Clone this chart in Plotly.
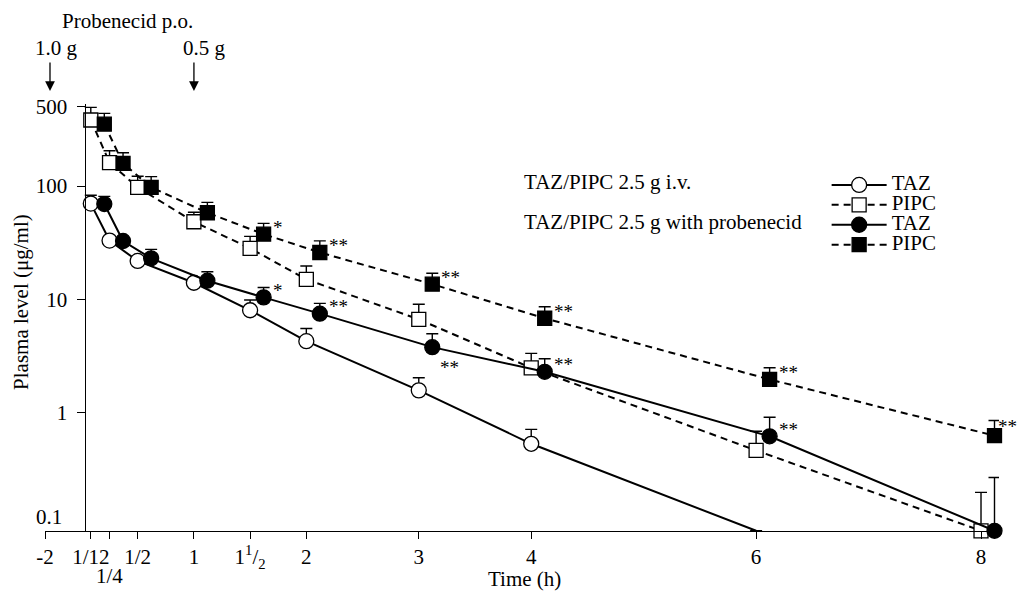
import numpy as np
import plotly.graph_objects as go

# ---------------- data ----------------
times = [1/12, 1/4, 1/2, 1, 1.5, 2, 3, 4, 6, 8]          # h
prob_offset = 0.12                                         # probenecid points drawn slightly to the right

taz_alone = [70, 33, 21.8, 14.0, 8.0, 4.27, 1.57, 0.53, 0.0904]     # last: below limit (line to axis)
taz_alone_sd = [13, 1.5, 1.0, 0.8, 1.86, 1.26, 0.46, 0.18, None]

pipc_alone = [383, 161, 97.4, 48.4, 28.2, 15.0, 6.65, 2.48, 0.463, 0.0904]
pipc_alone_sd = [112, 44, 24.6, 10.2, 7.7, 4.7, 2.39, 0.85, 0.221, 0.107]

taz_prob = [69.3, 32.7, 23.0, 14.6, 10.4, 7.47, 3.78, 2.29, 0.617, 0.0904]
taz_prob_sd = [11.7, 1.5, 4.6, 2.9, 2.3, 1.73, 1.19, 0.70, 0.291, 0.177]
taz_prob_sig = ["", "", "", "", "*", "**", "**", "**", "**", ""]

pipc_prob = [352, 158.5, 97.4, 58.1, 37.6, 25.9, 13.6, 6.8, 1.96, 0.625]
pipc_prob_sd = [86, 38.5, 23.6, 13.7, 9.2, 6.9, 3.4, 1.8, 0.53, 0.225]
pipc_prob_sig = ["", "", "", "", "*", "**", "**", "**", "**", "**"]

x_tick_labels = ["-2", "1/12", "1/4", "1/2", "1", "1<sup>1</sup>/<sub>2</sub>", "2", "3", "4", "6", "8"]
x_tick_values = [-2, 1/12, 1/4, 1/2, 1, 1.5, 2, 3, 4, 6, 8]
y_tick_values = [0.1, 1, 10, 100, 500]
y_tick_labels = ["0.1", "1", "10", "100", "500"]

dose_labels = ["1.0 g", "0.5 g"]

# ---------------- layout constants ----------------
FONT = "Liberation Serif"
FS = 21
AXIS_BREAK = -0.324        # where the "-2" h mark sits on the broken axis
X_RANGE = [AXIS_BREAK, 8.16]
Y_RANGE = [np.log10(0.09), np.log10(530)]
DECADE_PX = 113.3
X_PX_PER_H = 112.5

OFF = 8                    # page body margin of the html page
WIN_W, WIN_H = 1025, 595
W, H = WIN_W - OFF, WIN_H - OFF
# plot area edges in window pixels
PL, PT = 45, 104
PR = PL + X_PX_PER_H * (X_RANGE[1] - X_RANGE[0])
PB = PT + DECADE_PX * (Y_RANGE[1] - Y_RANGE[0])
PW, PH = PR - PL, PB - PT


def px_x(px):
    return (px - PL) / PW


def px_y(py):
    return (PB - py) / PH


x_pos = [AXIS_BREAK if v == -2 else v for v in x_tick_values]
yaxis_pos = px_x(85.5)
# the 0.1 label is written separately (raised above the x axis)
y_ticks_shown = [(v, t) for v, t in zip(y_tick_values, y_tick_labels) if t != "0.1"]

fig = go.Figure()

err_style = dict(type="data", symmetric=False, color="black", thickness=1.4, width=6)
line_solid = dict(color="black", width=2)
line_dash = dict(color="black", width=2, dash="7px,5px")


def lbl(s):
    return f"<span style='font-size:{FS}px'>{s}</span>"


# PIPC alone (open squares, dashed)
fig.add_trace(go.Scatter(
    x=times, y=pipc_alone, mode="lines+markers", name=lbl("PIPC"), legendrank=2,
    line=line_dash,
    marker=dict(symbol="square", size=14, color="white", line=dict(color="black", width=1.3)),
    error_y=dict(array=pipc_alone_sd, arrayminus=[0] * len(pipc_alone_sd), **err_style),
    cliponaxis=False))

# PIPC with probenecid (filled squares, dashed)
fig.add_trace(go.Scatter(
    x=[t + prob_offset for t in times], y=pipc_prob, mode="lines+markers", name=lbl("PIPC"), legendrank=4,
    line=line_dash,
    marker=dict(symbol="square", size=14, color="black", line=dict(color="black", width=1.3)),
    error_y=dict(array=pipc_prob_sd, arrayminus=[0] * len(pipc_prob_sd), **err_style),
    cliponaxis=False))

# TAZ alone (open circles, solid)
n_taz = len(taz_alone)
fig.add_trace(go.Scatter(
    x=times[:n_taz], y=taz_alone, mode="lines+markers", name=lbl("TAZ"), legendrank=1,
    line=line_solid,
    marker=dict(symbol="circle", size=15,
                color=["white"] * (n_taz - 1) + ["rgba(0,0,0,0)"],
                line=dict(color=["black"] * (n_taz - 1) + ["rgba(0,0,0,0)"], width=1.3)),
    error_y=dict(array=taz_alone_sd, arrayminus=[0] * n_taz, **err_style),
    cliponaxis=False))

# TAZ with probenecid (filled circles, solid)
fig.add_trace(go.Scatter(
    x=[t + prob_offset for t in times], y=taz_prob, mode="lines+markers", name=lbl("TAZ"), legendrank=3,
    line=line_solid,
    marker=dict(symbol="circle", size=15, color="black", line=dict(color="black", width=1.3)),
    error_y=dict(array=taz_prob_sd, arrayminus=[0] * len(taz_prob_sd), **err_style),
    cliponaxis=False))

annotations = []

# significance marks
last = len(times) - 1
for series, sig, below_idx in [(taz_prob, taz_prob_sig, {6}),
                               (pipc_prob, pipc_prob_sig, set())]:
    for i, s in enumerate(sig):
        if not s:
            continue
        if i in below_idx:
            xs, ys = 6, -20
        elif i == last:
            xs, ys = 1, 9
        else:
            xs, ys = 7, 7
        annotations.append(dict(x=times[i] + prob_offset, y=np.log10(series[i]), xref="x", yref="y",
                                text=s, showarrow=False, xanchor="left", yanchor="middle",
                                xshift=xs, yshift=ys, font=dict(size=19)))

# "1/4" label on second row, "0.1" raised label
annotations.append(dict(x=0.25, y=px_y(576), xref="x", yref="paper", text="1/4",
                        showarrow=False, xanchor="center", yanchor="middle"))
annotations.append(dict(x=px_x(64), y=px_y(517), xref="paper", yref="paper", text="0.1",
                        showarrow=False, xanchor="right", yanchor="middle"))

# axis titles
annotations.append(dict(x=px_x(525), y=px_y(579), xref="paper", yref="paper", text="Time (h)",
                        showarrow=False, xanchor="center", yanchor="middle"))
annotations.append(dict(x=px_x(21), y=px_y(302), xref="paper", yref="paper",
                        text="Plasma level (\u03bcg/ml)", textangle=-90,
                        showarrow=False, xanchor="center", yanchor="middle"))

# probenecid dosing
annotations.append(dict(x=px_x(128), y=px_y(21), xref="paper", yref="paper", text="Probenecid p.o.",
                        showarrow=False, xanchor="center", yanchor="middle"))
for dose_px, arrow_px, txt in [(57, 50, dose_labels[0]), (205, 194, dose_labels[1])]:
    annotations.append(dict(x=px_x(dose_px), y=px_y(48), xref="paper", yref="paper", text=txt,
                            showarrow=False, xanchor="center", yanchor="middle"))
    annotations.append(dict(x=px_x(arrow_px), y=px_y(91), xref="paper", yref="paper", text="",
                            showarrow=True, ax=0, ay=-30, arrowhead=2, arrowsize=1.5,
                            arrowwidth=1.3, arrowcolor="black", standoff=0))

# legend group labels
annotations.append(dict(x=px_x(522), y=px_y(182), xref="paper", yref="paper",
                        text="TAZ/PIPC 2.5 g i.v.", showarrow=False, xanchor="left", yanchor="middle"))
annotations.append(dict(x=px_x(522), y=px_y(222), xref="paper", yref="paper",
                        text="TAZ/PIPC 2.5 g with probenecid", showarrow=False,
                        xanchor="left", yanchor="middle"))

fig.update_layout(
    width=W, height=H,
    margin=dict(l=PL - OFF, r=W - (PR - OFF), t=PT - OFF, b=H - (PB - OFF), pad=0),
    paper_bgcolor="white", plot_bgcolor="white",
    font=dict(family=FONT, size=FS, color="black"),
    showlegend=True,
    legend=dict(x=px_x(827), y=px_y(170), xanchor="left", yanchor="top",
                font=dict(family=FONT, size=13, color="black"),
                bgcolor="rgba(0,0,0,0)", borderwidth=0, itemwidth=55,
                traceorder="normal", tracegroupgap=0),
    annotations=annotations,
    xaxis=dict(range=X_RANGE, tickvals=x_pos,
               ticktext=["" if t == "1/4" else t for t in x_tick_labels],
               ticks="outside", ticklen=7, tickwidth=1.2, tickcolor="black",
               showline=True, linewidth=1.2, linecolor="black",
               showgrid=False, zeroline=False, tickfont=dict(size=FS)),
    yaxis=dict(type="log", range=Y_RANGE,
               tickvals=[v for v, _ in y_ticks_shown], ticktext=[t for _, t in y_ticks_shown],
               anchor="free", position=yaxis_pos,
               ticks="outside", ticklen=8, tickwidth=1.2, tickcolor="black",
               ticklabelstandoff=6,
               showline=True, linewidth=1.2, linecolor="black",
               showgrid=False, zeroline=False, tickfont=dict(size=FS)),
)

fig.write_html("out.html")
